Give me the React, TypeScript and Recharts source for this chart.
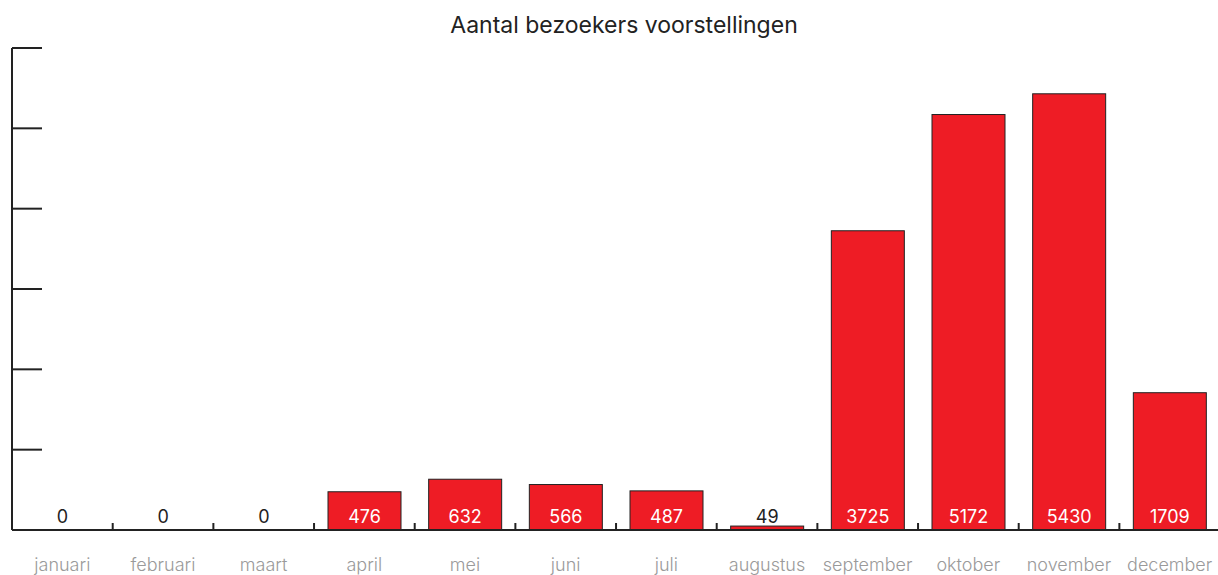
import { Bar, BarChart, XAxis, YAxis } from "recharts";

const months = [
	"januari",
	"februari",
	"maart",
	"april",
	"mei",
	"juni",
	"juli",
	"augustus",
	"september",
	"oktober",
	"november",
	"december",
];
const visitors = [0, 0, 0, 476, 632, 566, 487, 49, 3725, 5172, 5430, 1709];
const yTicks = [0, 1000, 2000, 3000, 4000, 5000, 6000];

const data = months.map((month, i) => ({ month, visitors: visitors[i] }));

const WIDTH = 1218;
const HEIGHT = 575;
const LEFT = 12;
const BAND = (WIDTH + 2 - LEFT - 1) / months.length;
const FONT = "Inter, 'Open Sans', sans-serif";

function MonthTick(props: any) {
	const { x, y, payload, index } = props;
	return (
		<g>
			{index > 0 && (
				<line
					x1={x - BAND / 2}
					x2={x - BAND / 2}
					y1={y}
					y2={y - 7}
					stroke="#222"
					strokeWidth={2}
				/>
			)}
			<text
				x={x}
				y={y + 41}
				textAnchor="middle"
				fill="#9a9a9a"
				fontSize={18}
				fontWeight={300}
				fontFamily={FONT}
			>
				{payload.value}
			</text>
		</g>
	);
}

// bar plus its value label, so zero-height bars still get a label
function LabelledBar(props: any) {
	const { x, y, width, height, payload } = props;
	const inside = height > 20;
	return (
		<g>
			{height > 0 && (
				<rect
					x={x}
					y={y}
					width={width}
					height={height}
					fill="#ee1c25"
					stroke="#222"
					strokeWidth={1}
				/>
			)}
			<text
				x={x + width / 2}
				y={y + height - 7}
				textAnchor="middle"
				fill={inside ? "#fff" : "#222"}
				fontSize={18}
				fontFamily={FONT}
			>
				{payload.visitors}
			</text>
		</g>
	);
}

export default function App() {
	return (
		<div style={{ position: "absolute", left: 0, top: 0, width: WIDTH, height: HEIGHT, background: "#fff", overflow: "hidden" }}>
			<div
				style={{
					position: "absolute",
					top: 11,
					left: 0,
					width: WIDTH + 30,
					textAlign: "center",
					fontFamily: FONT,
					fontSize: 23,
					color: "#222",
				}}
			>
				Aantal bezoekers voorstellingen
			</div>
			<BarChart
				width={WIDTH + 2}
				height={HEIGHT}
				data={data}
				margin={{ top: 48, right: 0, left: LEFT, bottom: 0 }}
			>
				<XAxis
					dataKey="month"
					height={45}
					tickLine={false}
					tickSize={0}
					tickMargin={0}
					interval={0}
					axisLine={{ stroke: "#222", strokeWidth: 2 }}
					tick={<MonthTick />}
				/>
				<YAxis
					width={1}
					domain={[0, 6000]}
					ticks={yTicks}
					mirror
					tickSize={30}
					tickLine={{ stroke: "#222", strokeWidth: 2 }}
					axisLine={{ stroke: "#222", strokeWidth: 2 }}
					tick={() => <g />}
				/>
				<Bar
					dataKey="visitors"
					barSize={73}
					shape={<LabelledBar />}
					isAnimationActive={false}
				/>
			</BarChart>
		</div>
	);
}
